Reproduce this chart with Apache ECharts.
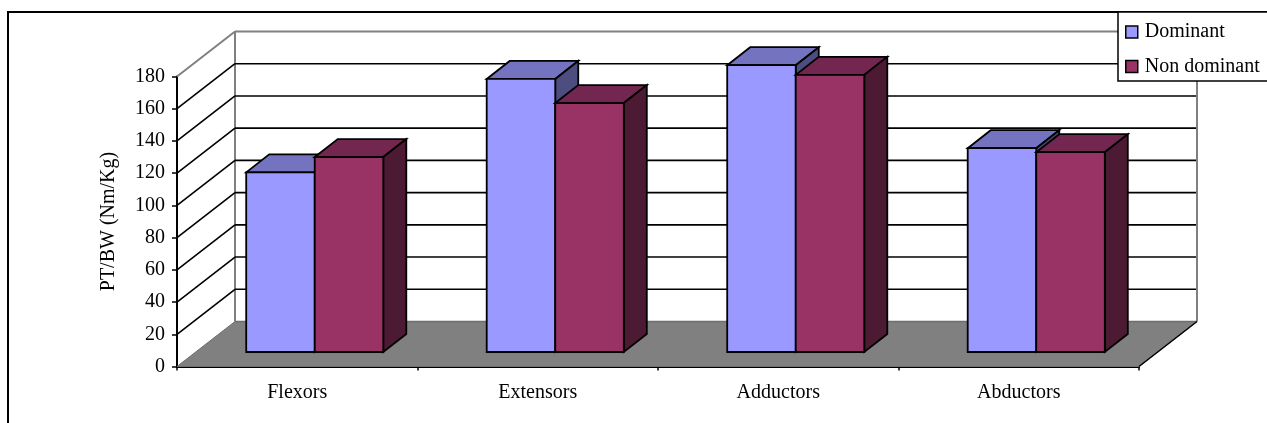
<!DOCTYPE html>
<html>
<head>
<meta charset="utf-8">
<style>html,body{margin:0;padding:0;background:#fff}#chart{width:1267px;height:423px}</style>
<script src="https://cdn.jsdelivr.net/npm/echarts@6/dist/echarts.min.js"></script>
</head>
<body>
<div id="chart"></div>
<script>
const categories = ['Flexors', 'Extensors', 'Adductors', 'Abductors'];
const dominant = [111.5, 169.5, 178, 126.5];
const nonDominant = [121, 154.5, 172, 124];
const wallTicks = [0, 20, 40, 60, 80, 100, 120, 140, 160, 180];

const SERIF = '"Liberation Serif", "Times New Roman", serif';
const WALL_DX = 58, WALL_DY = -45;      // depth of the box the columns stand in
const BAR_INSET_X = 17.5, BAR_INSET_Y = -14.5; // front face of a column, behind the axis plane
const BAR_DX = 23, BAR_DY = -18;        // depth of a column
const BAR_SHARE = 0.285;                // column width as a share of a category band
const EDGE = { stroke: '#000', lineWidth: 1.8, lineJoin: 'miter' };
const WALL_GREY = '#808080';

function line(x1, y1, x2, y2, stroke, lineWidth) {
  return { type: 'line', shape: { x1, y1, x2, y2 }, style: { stroke, lineWidth }, silent: true };
}
function poly(points, fill, stroke, lineWidth) {
  return { type: 'polygon', shape: { points }, style: { fill, stroke, lineWidth, lineJoin: 'miter' }, silent: true };
}

// Floor, walls and the grid lines that wrap round them.
function renderWalls(params, api) {
  const sys = params.coordSys;
  const tick = api.value(1);
  const y = api.coord([0, tick])[1];
  const x0 = sys.x, x1 = sys.x + sys.width;
  const bx0 = x0 + WALL_DX, bx1 = x1 + WALL_DX, by = y + WALL_DY;
  const children = [];
  if (tick === 0) {
    children.push(poly([[x0, y], [bx0, by], [bx1, by], [x1, y]], WALL_GREY, '#6e6e6e', 1));
    const topY = sys.y + WALL_DY;
    children.push(line(bx0, by, bx0, topY, WALL_GREY, 2));
    children.push(line(bx1, by, bx1, topY, WALL_GREY, 2));
    children.push(line(bx0, by, bx1, by, '#6e6e6e', 1.5));
    children.push(line(x1, y, bx1, by, '#000', 1.5));
  } else if (tick === wallTicks[wallTicks.length - 1]) {
    children.push(line(x0, y, bx0, by, WALL_GREY, 2));
    children.push(line(bx0, by, bx1, by, WALL_GREY, 2));
  } else {
    children.push(line(x0, y, bx0, by, '#000', 1.6));
    children.push(line(bx0, by, bx1 - 1, by, '#000', 1.6));
  }
  return { type: 'group', children };
}

// One column: front face plus the shaded top and side.
function columnRenderer(side, front, top, shade) {
  return function (params, api) {
    const band = api.size([1, 0])[0];
    const w = band * BAR_SHARE;
    const centre = api.coord([api.value(0), 0]);
    const high = api.coord([api.value(0), api.value(1)]);
    const l = centre[0] + BAR_INSET_X + (side === 0 ? -w : 0);
    const r = l + w;
    const b = centre[1] + BAR_INSET_Y;
    const t = high[1] + BAR_INSET_Y;
    return {
      type: 'group',
      children: [
        { type: 'polygon', shape: { points: [[l, t], [l + BAR_DX, t + BAR_DY], [r + BAR_DX, t + BAR_DY], [r, t]] }, style: Object.assign({ fill: top }, EDGE) },
        { type: 'polygon', shape: { points: [[r, t], [r + BAR_DX, t + BAR_DY], [r + BAR_DX, b + BAR_DY], [r, b]] }, style: Object.assign({ fill: shade }, EDGE) },
        { type: 'rect', shape: { x: l, y: t, width: w, height: b - t }, style: Object.assign({ fill: front }, EDGE) }
      ]
    };
  };
}

const chart = echarts.init(document.getElementById('chart'), null, { renderer: 'canvas' });
chart.setOption({
  animation: false,
  backgroundColor: '#fff',
  textStyle: { fontFamily: SERIF, color: '#000' },
  grid: { left: 177, right: 128, top: 76.5, bottom: 56.5, containLabel: false },
  graphic: [{
    type: 'rect', silent: true, z: -1,
    shape: { x: 8, y: 12, width: 1400, height: 600 },
    style: { fill: 'none', stroke: '#000', lineWidth: 2 }
  }],
  legend: {
    orient: 'vertical', left: 1118, top: 12,
    data: ['Dominant', 'Non dominant'],
    icon: 'rect', itemWidth: 12, itemHeight: 12, itemGap: 14.5,
    padding: [10, 16, 4.5, 7],
    backgroundColor: '#fff', borderColor: '#000', borderWidth: 1.5,
    itemStyle: { borderColor: '#000', borderWidth: 1.5 },
    textStyle: { fontFamily: SERIF, fontSize: 20, color: '#000', padding: [0, 0, 0, 2] },
    z: 20
  },
  xAxis: {
    type: 'category', data: categories,
    axisLine: { show: true, lineStyle: { color: '#000', width: 2 } },
    axisTick: { show: true, length: 4, lineStyle: { color: '#000', width: 1.5 } },
    axisLabel: { fontFamily: SERIF, fontSize: 20, color: '#000', margin: 16 },
    splitLine: { show: false }
  },
  yAxis: {
    type: 'value', min: 0, max: 180, interval: 20,
    name: 'PT/BW (Nm/Kg)', nameLocation: 'middle', nameGap: 58, nameRotate: 90,
    nameTextStyle: { fontFamily: SERIF, fontSize: 20, color: '#000' },
    axisLine: { show: true, lineStyle: { color: '#000', width: 2 } },
    axisTick: { show: true, length: 5, lineStyle: { color: '#000', width: 1.5 } },
    axisLabel: { fontFamily: SERIF, fontSize: 20, color: '#000', margin: 12, padding: [2, 0, 0, 0] },
    splitLine: { show: false }
  },
  series: [
    { type: 'custom', name: 'walls', silent: true, z: 1, renderItem: renderWalls, clip: false,
      data: wallTicks.map(t => [0, t]) },
    { type: 'custom', name: 'Dominant', z: 2, clip: false, itemStyle: { color: '#9999ff' },
      renderItem: columnRenderer(0, '#9999ff', '#7373bf', '#4d4d80'),
      data: dominant.map((v, i) => [i, v]) },
    { type: 'custom', name: 'Non dominant', z: 3, clip: false, itemStyle: { color: '#993366' },
      renderItem: columnRenderer(1, '#993366', '#732650', '#4d1a33'),
      data: nonDominant.map((v, i) => [i, v]) }
  ]
});
</script>
</body>
</html>
